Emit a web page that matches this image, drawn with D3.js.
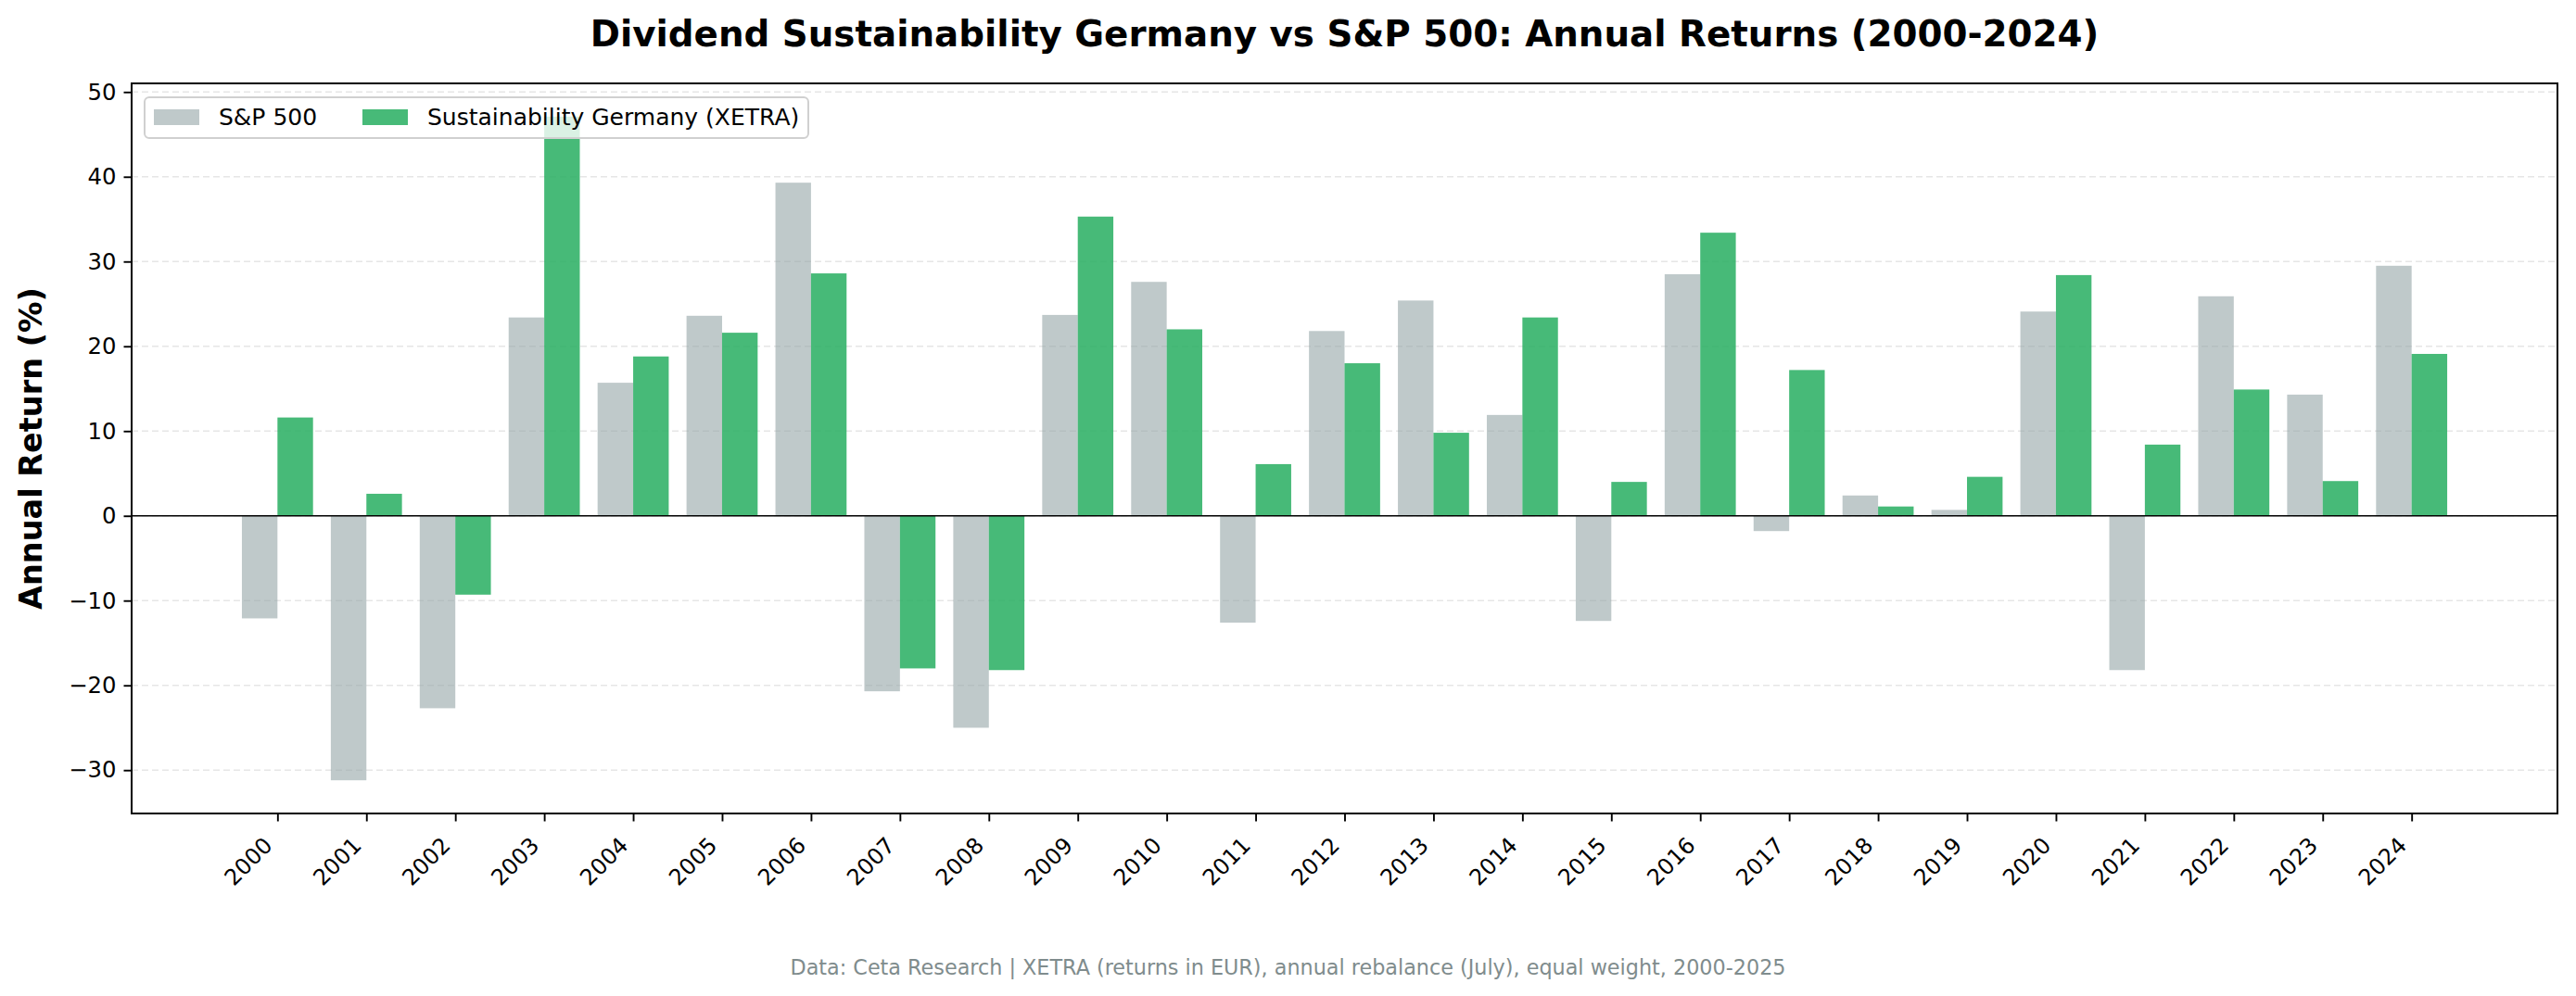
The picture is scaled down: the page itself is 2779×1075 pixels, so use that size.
<!DOCTYPE html>
<html lang="en">
  <head>
    <meta charset="UTF-8" />
    <script src="https://d3js.org/d3.v7.min.js"></script>
    <title>Dividend Sustainability Germany vs S&amp;P 500</title>
    <style>
      body {
        margin: 0;
        background: #ffffff;
      }
      svg text {
        font-family: "DejaVu Sans", sans-serif;
        fill: #000;
      }
      .grid line {
        stroke: #e6e6e6;
        stroke-dasharray: 7, 4;
        stroke-width: 1.5;
      }
      .axis path,
      .axis line {
        stroke: #000;
      }
      .axis line {
        stroke-width: 1.9;
      }
    </style>
  </head>
  <body>
    <svg id="chart" width="2779" height="1075" xmlns="http://www.w3.org/2000/svg"></svg>
    <script>
      const width = 2779;
      const height = 1075;

      // data (annual returns, %)
      const years = [
        2000, 2001, 2002, 2003, 2004, 2005, 2006, 2007, 2008, 2009, 2010, 2011, 2012,
        2013, 2014, 2015, 2016, 2017, 2018, 2019, 2020, 2021, 2022, 2023, 2024
      ];
      const spx = [
        -12.1, -31.2, -22.7, 23.4, 15.7, 23.6, 39.3, -20.7, -25.0, 23.7, 27.6, -12.6, 21.8,
        25.4, 11.9, -12.4, 28.5, -1.8, 2.4, 0.7, 24.1, -18.2, 25.9, 14.3, 29.5
      ];
      const germany = [
        11.6, 2.6, -9.3, 47.1, 18.8, 21.6, 28.6, -18.0, -18.2, 35.3, 22.0, 6.1, 18.0,
        9.8, 23.4, 4.0, 33.4, 17.2, 1.1, 4.6, 28.4, 8.4, 14.9, 4.1, 19.1
      ];
      const yTicks = [-30, -20, -10, 0, 10, 20, 30, 40, 50];
      const seriesNames = ["S&P 500", "Sustainability Germany (XETRA)"];
      const seriesColors = ["rgba(149,165,166,0.6)", "rgba(39,174,96,0.85)"];

      const margin = { top: 90, right: 20, bottom: 197, left: 142 };
      const plotW = width - margin.left - margin.right;
      const plotH = height - margin.top - margin.bottom;
      const barW = 0.4;

      const svg = d3.select("#chart");

      // matplotlib-like 5% margins around the data
      const xLo = -barW, xHi = years.length - 1 + barW;
      const xPad = (xHi - xLo) * 0.05;
      const x = d3.scaleLinear()
        .domain([xLo - xPad, xHi + xPad])
        .range([margin.left, margin.left + plotW]);

      const allVals = spx.concat(germany);
      const yMin = d3.min(allVals), yMax = d3.max(allVals);
      const yPad = (yMax - yMin) * 0.05;
      const y = d3.scaleLinear()
        .domain([yMin - yPad, yMax + yPad])
        .range([margin.top + plotH, margin.top]);

      // grid
      svg.append("g")
        .attr("class", "grid")
        .selectAll("line")
        .data(yTicks)
        .join("line")
        .attr("x1", margin.left)
        .attr("x2", margin.left + plotW)
        .attr("y1", d => y(d))
        .attr("y2", d => y(d));

      // bars
      const series = [spx, germany];
      series.forEach((vals, s) => {
        const off = s === 0 ? -barW : 0;
        svg.append("g")
          .selectAll("rect")
          .data(vals)
          .join("rect")
          .attr("x", (d, i) => x(i + off))
          .attr("width", x(barW) - x(0))
          .attr("y", d => y(Math.max(0, d)))
          .attr("height", d => Math.abs(y(d) - y(0)))
          .attr("fill", seriesColors[s]);
      });

      // zero line
      svg.append("line")
        .attr("x1", margin.left)
        .attr("x2", margin.left + plotW)
        .attr("y1", y(0))
        .attr("y2", y(0))
        .attr("stroke", "#000")
        .attr("stroke-width", 1.4);

      // axes
      const yAxis = svg.append("g")
        .attr("class", "axis")
        .attr("transform", `translate(${margin.left},0)`)
        .call(d3.axisLeft(y).tickValues(yTicks).tickSize(8.5).tickPadding(8).tickFormat(d3.format("d")));
      yAxis.select(".domain").remove();
      yAxis.selectAll("text").style("font-size", "24.3px");

      const xAxis = svg.append("g")
        .attr("class", "axis")
        .attr("transform", `translate(0,${margin.top + plotH})`)
        .call(d3.axisBottom(x).tickValues(d3.range(years.length)).tickSize(8.5).tickFormat(""));
      xAxis.select(".domain").remove();

      svg.append("g")
        .selectAll("text")
        .data(years)
        .join("text")
        .attr("transform", (d, i) => `translate(${x(i) - 4},${margin.top + plotH + 36}) rotate(-45)`)
        .attr("text-anchor", "end")
        .style("font-size", "24px")
        .text(d => d);

      // frame
      svg.append("rect")
        .attr("x", margin.left)
        .attr("y", margin.top)
        .attr("width", plotW)
        .attr("height", plotH)
        .attr("fill", "none")
        .attr("stroke", "#000")
        .attr("stroke-width", 2);

      // legend
      const legend = svg.append("g").attr("transform", `translate(${margin.left + 14},${margin.top + 15})`);
      legend.append("rect")
        .attr("width", 716)
        .attr("height", 44)
        .attr("rx", 5)
        .attr("fill", "rgba(255,255,255,0.8)")
        .attr("stroke", "#d0d0d0")
        .attr("stroke-width", 2);
      const legX = [10, 235];
      seriesNames.forEach((name, s) => {
        legend.append("rect")
          .attr("x", legX[s])
          .attr("y", 13)
          .attr("width", 49)
          .attr("height", 17)
          .attr("fill", seriesColors[s]);
        legend.append("text")
          .attr("x", legX[s] + 70)
          .attr("y", 30)
          .style("font-size", "25px")
          .text(name);
      });

      // titles
      svg.append("text")
        .attr("x", margin.left + plotW / 2)
        .attr("y", 50)
        .attr("text-anchor", "middle")
        .style("font-size", "38.8px")
        .style("font-weight", "bold")
        .text("Dividend Sustainability Germany vs S&P 500: Annual Returns (2000-2024)");

      svg.append("text")
        .attr("transform", `translate(45,${margin.top + plotH / 2}) rotate(-90)`)
        .attr("text-anchor", "middle")
        .style("font-size", "33.5px")
        .style("font-weight", "bold")
        .text("Annual Return (%)");

      svg.append("text")
        .attr("x", width / 2)
        .attr("y", 1052)
        .attr("text-anchor", "middle")
        .style("font-size", "22.3px")
        .style("fill", "#7f8c8d")
        .text("Data: Ceta Research | XETRA (returns in EUR), annual rebalance (July), equal weight, 2000-2025");
    </script>
  </body>
</html>
